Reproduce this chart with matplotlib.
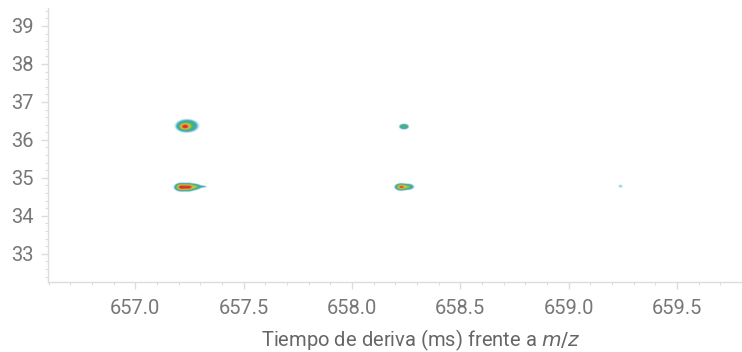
"""Drift time vs m/z intensity map for the isotope cluster around m/z 657-659."""

import matplotlib

matplotlib.use("Agg")
import matplotlib.pyplot as plt
import numpy as np
from matplotlib.colors import LinearSegmentedColormap
from matplotlib.ticker import FormatStrFormatter, MultipleLocator

plt.rcParams["font.family"] = ["Roboto", "DejaVu Sans"]

# Peak components: m/z centre, drift time centre, relative intensity, widths
PEAK_MZ = [657.228, 657.238,
           657.212, 657.244, 657.274, 657.308,
           658.240,
           658.227, 658.258,
           659.240]
PEAK_DT = [36.35, 36.37,
           34.755, 34.755, 34.765, 34.770,
           36.35,
           34.760, 34.765,
           34.780]
PEAK_INT = [0.80, 0.40,
            1.10, 1.00, 0.40, 0.12,
            0.30,
            0.90, 0.38,
            0.07]
PEAK_W_MZ = [0.013, 0.026,
             0.014, 0.014, 0.014, 0.015,
             0.012,
             0.013, 0.014,
             0.009]
PEAK_W_DT = [0.045, 0.085,
             0.048, 0.048, 0.040, 0.020,
             0.040,
             0.042, 0.040,
             0.035]

STOPS = [0.0, 0.12, 0.25, 0.42, 0.56, 0.72, 0.88, 1.0]
COLORS = ["#80c4ee", "#3aa9b0", "#4db36a", "#9cc64a", "#e6c53c",
          "#f08a35", "#e53a30", "#e0302c"]
cmap = LinearSegmentedColormap.from_list("drift", list(zip(STOPS, COLORS)))

mz = np.linspace(656.597, 659.80, 1800)
dt = np.linspace(32.26, 39.47, 900)
MZ, DT = np.meshgrid(mz, dt)
Z = np.zeros_like(MZ)
for m, d, a, wm, wd in zip(PEAK_MZ, PEAK_DT, PEAK_INT, PEAK_W_MZ, PEAK_W_DT):
    Z += a * np.exp(-0.5 * (((MZ - m) / wm) ** 2 + ((DT - d) / wd) ** 2))
Z = np.clip(Z, 0, 1)

rgba = cmap(Z)
rgba[..., 3] = np.clip((Z - 0.025) / 0.06, 0, 1)

fig = plt.figure(figsize=(7.42, 3.52), dpi=100)
ax = fig.add_axes([0.0647, 0.199, 0.9353, 0.778])

ax.imshow(rgba, origin="lower", aspect="auto", interpolation="bilinear",
          extent=(mz[0], mz[-1], dt[0], dt[-1]))

ax.set_xlim(656.597, 659.80)
ax.set_ylim(32.26, 39.47)
ax.xaxis.set_major_locator(MultipleLocator(0.5))
ax.xaxis.set_minor_locator(MultipleLocator(0.1))
ax.yaxis.set_major_locator(MultipleLocator(1))
ax.yaxis.set_minor_locator(MultipleLocator(0.2))
ax.xaxis.set_major_formatter(FormatStrFormatter("%.1f"))

grey = "#dcdcdc"
ax.spines[["top", "right"]].set_visible(False)
for side in ("left", "bottom"):
    ax.spines[side].set_color(grey)
    ax.spines[side].set_linewidth(1.0)
ax.tick_params(which="major", length=5, width=1, color=grey,
               labelsize=14.5, labelcolor="#777777")
ax.tick_params(which="minor", length=2.5, width=0.8, color=grey)
ax.tick_params(axis="x", which="major", pad=7)
ax.tick_params(axis="y", which="major", pad=5)

ax.set_xlabel("Tiempo de deriva (ms) frente a $\\it{m/z}$", fontsize=14.5,
              color="#666666")
ax.xaxis.set_label_coords(0.537, -0.165)

fig.savefig("out.png", dpi=100)
